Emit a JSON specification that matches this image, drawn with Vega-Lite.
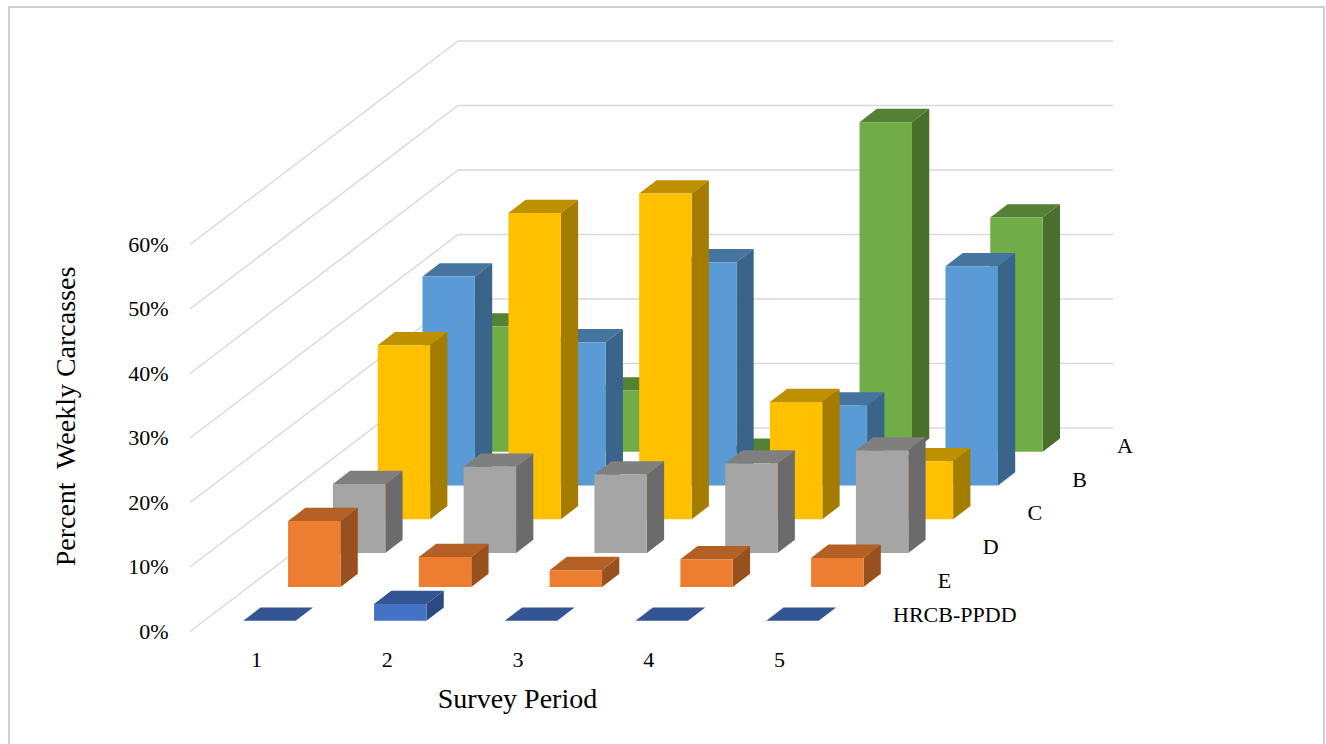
{"$schema":"https://vega.github.io/schema/vega-lite/v6.json","width":1315,"height":738,"autosize":"none","padding":{"left":9,"top":7,"right":2,"bottom":0},"background":"white","config":{"view":{"stroke":"#c0c0c0","strokeWidth":1.5},"text":{"font":"Liberation Serif"},"axis":{"labelFont":"Liberation Serif","titleFont":"Liberation Serif","labelColor":"#000000","titleColor":"#000000"}},
"resolve":{"axis":{"x":"independent","y":"independent"}},
"datasets":{"bars":[
{"series":"HRCB-PPDD","period":1,"value":0},{"series":"HRCB-PPDD","period":2,"value":2.6},{"series":"HRCB-PPDD","period":3,"value":0},{"series":"HRCB-PPDD","period":4,"value":0},{"series":"HRCB-PPDD","period":5,"value":0},
{"series":"E","period":1,"value":10.2},{"series":"E","period":2,"value":4.65},{"series":"E","period":3,"value":2.6},{"series":"E","period":4,"value":4.3},{"series":"E","period":5,"value":4.5},
{"series":"D","period":1,"value":10.7},{"series":"D","period":2,"value":13.4},{"series":"D","period":3,"value":12.2},{"series":"D","period":4,"value":13.9},{"series":"D","period":5,"value":15.9},
{"series":"C","period":1,"value":27},{"series":"C","period":2,"value":47.5},{"series":"C","period":3,"value":50.5},{"series":"C","period":4,"value":18.2},{"series":"C","period":5,"value":9},
{"series":"B","period":1,"value":32.4},{"series":"B","period":2,"value":22.2},{"series":"B","period":3,"value":34.6},{"series":"B","period":4,"value":12.4},{"series":"B","period":5,"value":34},
{"series":"A","period":1,"value":19.4},{"series":"A","period":2,"value":9.5},{"series":"A","period":3,"value":0},{"series":"A","period":4,"value":51.1},{"series":"A","period":5,"value":36.3}],
"walls":[{"pct":0},{"pct":10},{"pct":20},{"pct":30},{"pct":40},{"pct":50},{"pct":60}],
"names":[{"series":"HRCB-PPDD"},{"series":"E"},{"series":"D"},{"series":"C"},{"series":"B"},{"series":"A"}]},
"data":{"name":"bars"},
"transform":[
{"calculate":"indexof(['HRCB-PPDD','E','D','C','B','A'],datum.series)","as":"s"},
{"calculate":"[0,1]","as":"t"},{"flatten":["t"]},
{"calculate":"['front','top','side']","as":"face"},{"flatten":["face"]},
{"calculate":"datum.series+' '+datum.face","as":"key"},
{"calculate":"datum.period-0.0971+0.3426*datum.s","as":"xl"},
{"calculate":"datum.xl+0.401","as":"xr"},
{"calculate":"1.67+5.24*datum.s","as":"y0"},
{"calculate":"datum.y0+datum.value","as":"y1"},
{"calculate":"datum.xl+datum.t*0.132","as":"txl"},
{"calculate":"datum.xr+datum.t*0.132","as":"txr"},
{"calculate":"datum.y1+datum.t*2.06","as":"ty"},
{"calculate":"datum.y0+datum.t*2.06","as":"by"}],
"encoding":{"color":{"field":"key","type":"nominal","legend":null,"scale":{"domain":["A front","A top","A side","B front","B top","B side","C front","C top","C side","D front","D top","D side","E front","E top","E side","HRCB-PPDD front","HRCB-PPDD top","HRCB-PPDD side"],"range":["#70AD47","#548235","#4A6E2C","#5B9BD5","#44749F","#3A6489","#FFC000","#BF9000","#A47C00","#A5A5A5","#7F7F7F","#6B6B6B","#ED7D31","#B45F23","#98501F","#4472C4","#335593","#2A4A80"]}}},
"layer":[
{"data":{"name":"walls"},"transform":[{"calculate":"[0,1,2]","as":"c"},{"flatten":["c"]},{"calculate":"[0.495,2.545,7.554][datum.c]","as":"gx"},{"calculate":"datum.pct+(datum.c>0?31.55:0)","as":"gy"}],"mark":{"type":"line","strokeWidth":1.5},"encoding":{"color":{"value":"#d9d9d9"},"detail":{"field":"pct"},"x":{"field":"gx","type":"quantitative","scale":{"domain":[-0.889,9.168],"nice":false,"zero":false},"axis":{"values":[1,2,3,4,5],"format":"d","grid":false,"domain":false,"ticks":false,"offset":-96,"labelPadding":0,"labelFontSize":22,"labelBaseline":"top","title":"Survey Period","titleFontSize":28,"titleFontWeight":"normal","titleX":508,"titleY":36}},"y":{"field":"gy","type":"quantitative","scale":{"domain":[-17.6,96.82],"nice":false,"zero":false},"axis":{"values":[0,10,20,30,40,50,60],"labelExpr":"datum.value+'%'","grid":false,"domain":false,"ticks":false,"offset":-159,"labelPadding":0,"labelFontSize":22,"title":"Percent\u00a0 Weekly Carcasses","titleFontSize":28,"titleFontWeight":"normal","titleX":-88,"titleY":409}}}},
{"transform":[{"filter":"datum.key=='A top'"}],"mark":{"type":"area","orient":"horizontal"},"encoding":{"detail":{"field":"period"},"y":{"field":"ty","type":"quantitative","scale":{"domain":[-17.6,96.82],"nice":false,"zero":false},"axis":null},"x":{"field":"txl","type":"quantitative","scale":{"domain":[-0.889,9.168],"nice":false,"zero":false},"axis":null},"x2":{"field":"txr"}}},
{"transform":[{"filter":"datum.key=='A side'"}],"mark":{"type":"area","orient":"vertical"},"encoding":{"detail":{"field":"period"},"x":{"field":"txr","type":"quantitative","scale":{"domain":[-0.889,9.168],"nice":false,"zero":false},"axis":null},"y":{"field":"ty","type":"quantitative","scale":{"domain":[-17.6,96.82],"nice":false,"zero":false},"axis":null},"y2":{"field":"by"}}},
{"transform":[{"filter":"datum.key=='A front'&&datum.t==0"}],"mark":"rect","encoding":{"x":{"field":"xl","type":"quantitative","scale":{"domain":[-0.889,9.168],"nice":false,"zero":false},"axis":null},"x2":{"field":"xr"},"y":{"field":"y1","type":"quantitative","scale":{"domain":[-17.6,96.82],"nice":false,"zero":false},"axis":null},"y2":{"field":"y0"}}},
{"transform":[{"filter":"datum.key=='B top'"}],"mark":{"type":"area","orient":"horizontal"},"encoding":{"detail":{"field":"period"},"y":{"field":"ty","type":"quantitative","scale":{"domain":[-17.6,96.82],"nice":false,"zero":false},"axis":null},"x":{"field":"txl","type":"quantitative","scale":{"domain":[-0.889,9.168],"nice":false,"zero":false},"axis":null},"x2":{"field":"txr"}}},
{"transform":[{"filter":"datum.key=='B side'"}],"mark":{"type":"area","orient":"vertical"},"encoding":{"detail":{"field":"period"},"x":{"field":"txr","type":"quantitative","scale":{"domain":[-0.889,9.168],"nice":false,"zero":false},"axis":null},"y":{"field":"ty","type":"quantitative","scale":{"domain":[-17.6,96.82],"nice":false,"zero":false},"axis":null},"y2":{"field":"by"}}},
{"transform":[{"filter":"datum.key=='B front'&&datum.t==0"}],"mark":"rect","encoding":{"x":{"field":"xl","type":"quantitative","scale":{"domain":[-0.889,9.168],"nice":false,"zero":false},"axis":null},"x2":{"field":"xr"},"y":{"field":"y1","type":"quantitative","scale":{"domain":[-17.6,96.82],"nice":false,"zero":false},"axis":null},"y2":{"field":"y0"}}},
{"transform":[{"filter":"datum.key=='C top'"}],"mark":{"type":"area","orient":"horizontal"},"encoding":{"detail":{"field":"period"},"y":{"field":"ty","type":"quantitative","scale":{"domain":[-17.6,96.82],"nice":false,"zero":false},"axis":null},"x":{"field":"txl","type":"quantitative","scale":{"domain":[-0.889,9.168],"nice":false,"zero":false},"axis":null},"x2":{"field":"txr"}}},
{"transform":[{"filter":"datum.key=='C side'"}],"mark":{"type":"area","orient":"vertical"},"encoding":{"detail":{"field":"period"},"x":{"field":"txr","type":"quantitative","scale":{"domain":[-0.889,9.168],"nice":false,"zero":false},"axis":null},"y":{"field":"ty","type":"quantitative","scale":{"domain":[-17.6,96.82],"nice":false,"zero":false},"axis":null},"y2":{"field":"by"}}},
{"transform":[{"filter":"datum.key=='C front'&&datum.t==0"}],"mark":"rect","encoding":{"x":{"field":"xl","type":"quantitative","scale":{"domain":[-0.889,9.168],"nice":false,"zero":false},"axis":null},"x2":{"field":"xr"},"y":{"field":"y1","type":"quantitative","scale":{"domain":[-17.6,96.82],"nice":false,"zero":false},"axis":null},"y2":{"field":"y0"}}},
{"transform":[{"filter":"datum.key=='D top'"}],"mark":{"type":"area","orient":"horizontal"},"encoding":{"detail":{"field":"period"},"y":{"field":"ty","type":"quantitative","scale":{"domain":[-17.6,96.82],"nice":false,"zero":false},"axis":null},"x":{"field":"txl","type":"quantitative","scale":{"domain":[-0.889,9.168],"nice":false,"zero":false},"axis":null},"x2":{"field":"txr"}}},
{"transform":[{"filter":"datum.key=='D side'"}],"mark":{"type":"area","orient":"vertical"},"encoding":{"detail":{"field":"period"},"x":{"field":"txr","type":"quantitative","scale":{"domain":[-0.889,9.168],"nice":false,"zero":false},"axis":null},"y":{"field":"ty","type":"quantitative","scale":{"domain":[-17.6,96.82],"nice":false,"zero":false},"axis":null},"y2":{"field":"by"}}},
{"transform":[{"filter":"datum.key=='D front'&&datum.t==0"}],"mark":"rect","encoding":{"x":{"field":"xl","type":"quantitative","scale":{"domain":[-0.889,9.168],"nice":false,"zero":false},"axis":null},"x2":{"field":"xr"},"y":{"field":"y1","type":"quantitative","scale":{"domain":[-17.6,96.82],"nice":false,"zero":false},"axis":null},"y2":{"field":"y0"}}},
{"transform":[{"filter":"datum.key=='E top'"}],"mark":{"type":"area","orient":"horizontal"},"encoding":{"detail":{"field":"period"},"y":{"field":"ty","type":"quantitative","scale":{"domain":[-17.6,96.82],"nice":false,"zero":false},"axis":null},"x":{"field":"txl","type":"quantitative","scale":{"domain":[-0.889,9.168],"nice":false,"zero":false},"axis":null},"x2":{"field":"txr"}}},
{"transform":[{"filter":"datum.key=='E side'"}],"mark":{"type":"area","orient":"vertical"},"encoding":{"detail":{"field":"period"},"x":{"field":"txr","type":"quantitative","scale":{"domain":[-0.889,9.168],"nice":false,"zero":false},"axis":null},"y":{"field":"ty","type":"quantitative","scale":{"domain":[-17.6,96.82],"nice":false,"zero":false},"axis":null},"y2":{"field":"by"}}},
{"transform":[{"filter":"datum.key=='E front'&&datum.t==0"}],"mark":"rect","encoding":{"x":{"field":"xl","type":"quantitative","scale":{"domain":[-0.889,9.168],"nice":false,"zero":false},"axis":null},"x2":{"field":"xr"},"y":{"field":"y1","type":"quantitative","scale":{"domain":[-17.6,96.82],"nice":false,"zero":false},"axis":null},"y2":{"field":"y0"}}},
{"transform":[{"filter":"datum.key=='HRCB-PPDD top'"}],"mark":{"type":"area","orient":"horizontal"},"encoding":{"detail":{"field":"period"},"y":{"field":"ty","type":"quantitative","scale":{"domain":[-17.6,96.82],"nice":false,"zero":false},"axis":null},"x":{"field":"txl","type":"quantitative","scale":{"domain":[-0.889,9.168],"nice":false,"zero":false},"axis":null},"x2":{"field":"txr"}}},
{"transform":[{"filter":"datum.key=='HRCB-PPDD side'"}],"mark":{"type":"area","orient":"vertical"},"encoding":{"detail":{"field":"period"},"x":{"field":"txr","type":"quantitative","scale":{"domain":[-0.889,9.168],"nice":false,"zero":false},"axis":null},"y":{"field":"ty","type":"quantitative","scale":{"domain":[-17.6,96.82],"nice":false,"zero":false},"axis":null},"y2":{"field":"by"}}},
{"transform":[{"filter":"datum.key=='HRCB-PPDD front'&&datum.t==0"}],"mark":"rect","encoding":{"x":{"field":"xl","type":"quantitative","scale":{"domain":[-0.889,9.168],"nice":false,"zero":false},"axis":null},"x2":{"field":"xr"},"y":{"field":"y1","type":"quantitative","scale":{"domain":[-17.6,96.82],"nice":false,"zero":false},"axis":null},"y2":{"field":"y0"}}},
{"data":{"name":"names"},"transform":[{"calculate":"indexof(['HRCB-PPDD','E','D','C','B','A'],datum.series)","as":"s"},{"calculate":"5.872+0.3426*datum.s","as":"lx"},{"calculate":"2.6+5.24*datum.s","as":"ly"}],"mark":{"type":"text","align":"left","baseline":"middle","fontSize":22,"font":"Liberation Serif"},"encoding":{"color":{"value":"#000000"},"text":{"field":"series"},"x":{"field":"lx","type":"quantitative","scale":{"domain":[-0.889,9.168],"nice":false,"zero":false},"axis":null},"y":{"field":"ly","type":"quantitative","scale":{"domain":[-17.6,96.82],"nice":false,"zero":false},"axis":null}}}
]}
